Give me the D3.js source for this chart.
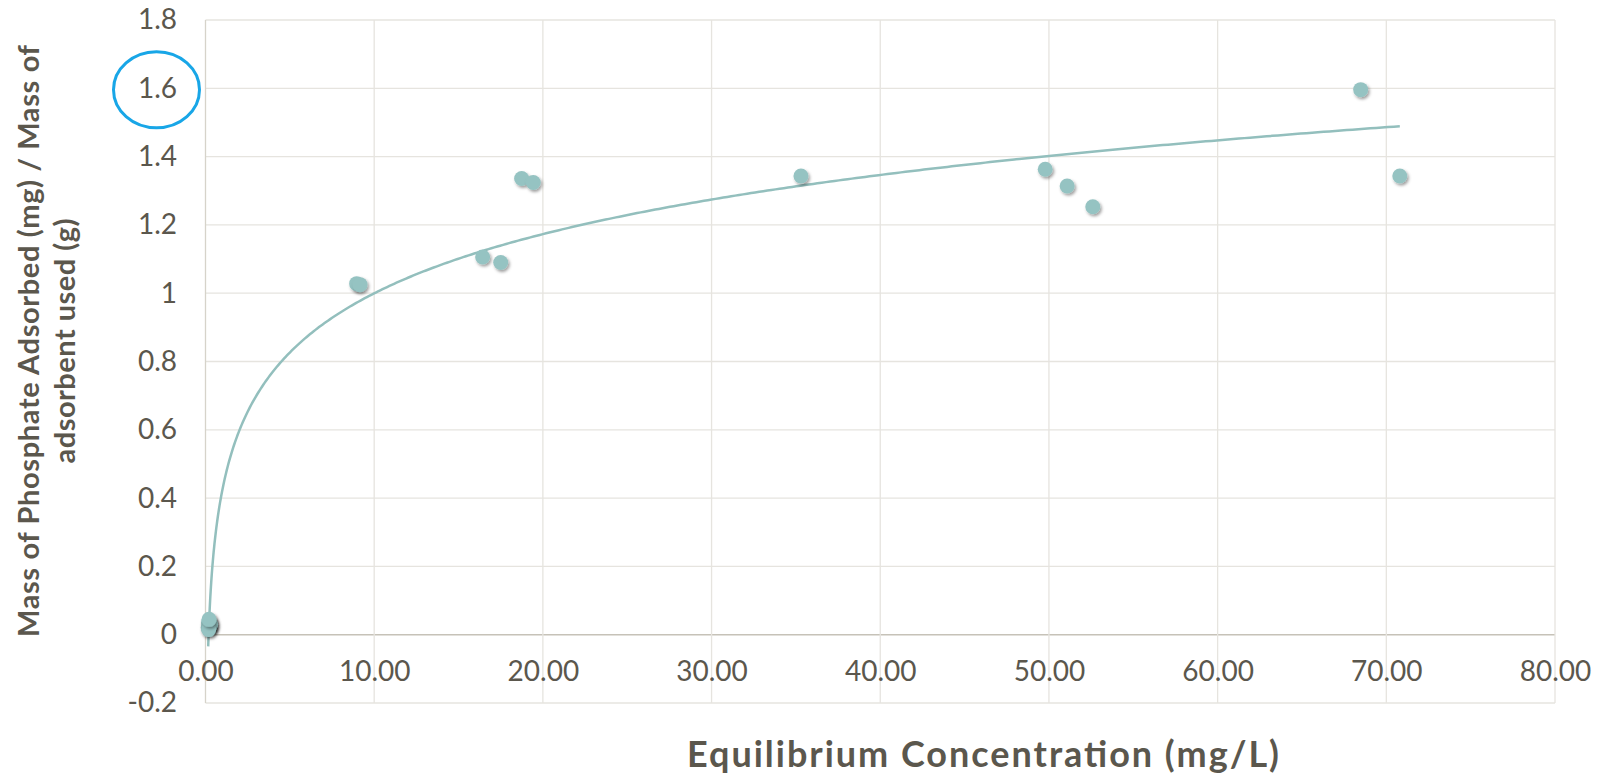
<!DOCTYPE html>
<html>
<head>
<meta charset="utf-8">
<script src="https://cdn.jsdelivr.net/npm/d3@7"></script>
<style>
    body { margin: 0; background: #fff; }
    svg { display: block; }
</style>
</head>
<body>
<div id="container"></div>
<script>
let w = 1604;
let h = 778;

// DATA
let concentration = [0.16, 0.18, 0.2, 0.22, 0.25, 0.3, 0.19, 0.21,
    8.96, 9.16, 16.43, 17.5, 18.74, 19.43, 35.3,
    49.78, 51.08, 52.6, 68.48, 70.8];
let adsorbed = [0.02, 0.035, 0.03, 0.04, 0.025, 0.03, 0.015, 0.045,
    1.028, 1.025, 1.106, 1.09, 1.336, 1.324, 1.343,
    1.363, 1.314, 1.253, 1.596, 1.343];
let xTicks = [0, 10, 20, 30, 40, 50, 60, 70, 80];
let yTicks = [-0.2, 0, 0.2, 0.4, 0.6, 0.8, 1, 1.2, 1.4, 1.6, 1.8];
// logarithmic trendline y = a ln(x) + b
let trendA = 0.25;
let trendB = 0.424;

let textColor = "#5b574d";
let pointColor = "#95c3c2";

let x = d3.scaleLinear().domain([0, 80]).range([205.5, 1555]);
let y = d3.scaleLinear().domain([-0.2, 1.8]).range([703, 20]);

let viz = d3.select("#container").append("svg")
    .attr("width", w)
    .attr("height", h)
    .style("background-color", "white")
    .style("font-family", "Lato, 'Open Sans', sans-serif");

let defs = viz.append("defs");
let shadow = defs.append("filter").attr("id", "shadow")
    .attr("x", "-50%").attr("y", "-50%").attr("width", "200%").attr("height", "200%");
shadow.append("feDropShadow")
    .attr("dx", 1.5).attr("dy", 2).attr("stdDeviation", 1.6)
    .attr("flood-color", "#000").attr("flood-opacity", 0.38);

// gridlines
viz.append("g").attr("class", "hgrid")
    .selectAll("line").data(yTicks).enter()
    .append("line")
    .attr("x1", x(0)).attr("x2", x(80))
    .attr("y1", d => y(d)).attr("y2", d => y(d))
    .attr("stroke", d => d === 0 ? "#c6c2b8" : "#e6e4df")
    .attr("stroke-width", d => d === 0 ? 1.6 : 1.3);

viz.append("g").attr("class", "vgrid")
    .selectAll("line").data(xTicks).enter()
    .append("line")
    .attr("x1", d => x(d)).attr("x2", d => x(d))
    .attr("y1", y(1.8)).attr("y2", y(-0.2))
    .attr("stroke", d => d === 0 ? "#d6d3ca" : "#e6e4df")
    .attr("stroke-width", 1.3);

// y tick labels
let yAxis = d3.axisLeft(y)
    .tickValues(yTicks)
    .tickSize(0)
    .tickPadding(0)
    .tickFormat(d => String(+d.toFixed(1)));
let gy = viz.append("g").attr("transform", "translate(177,0)").call(yAxis);
gy.select(".domain").remove();
gy.selectAll("text")
    .attr("fill", textColor)
    .style("font-size", "28px")
    .style("font-family", "Lato, sans-serif");

// x tick labels (sit just under the zero line)
let xAxis = d3.axisBottom(x)
    .tickValues(xTicks)
    .tickSize(0)
    .tickPadding(0)
    .tickFormat(d3.format(".2f"));
let gx = viz.append("g").attr("transform", "translate(0," + (y(0) + 46) + ")").call(xAxis);
gx.select(".domain").remove();
gx.selectAll("text")
    .attr("dy", "0")
    .attr("fill", textColor)
    .style("font-size", "28px")
    .style("font-family", "Lato, sans-serif");

// trendline
let trendX = d3.range(0, 401).map(i => concentration[0] + (d3.max(concentration) - concentration[0]) * Math.pow(i / 400, 2));
let line = d3.line()
    .x(d => x(d))
    .y(d => y(trendA * Math.log(d) + trendB))
    .curve(d3.curveLinear);
viz.append("path")
    .datum(trendX)
    .attr("d", line)
    .attr("fill", "none")
    .attr("stroke", "#93bfbd")
    .attr("stroke-width", 2.5);

// points
viz.append("g").selectAll("circle")
    .data(concentration.map((c, i) => [c, adsorbed[i]]))
    .enter()
    .append("circle")
    .attr("cx", d => x(d[0]))
    .attr("cy", d => y(d[1]))
    .attr("r", 7.5)
    .attr("fill", pointColor)
    .attr("filter", "url(#shadow)");

// axis titles
viz.append("text")
    .attr("x", 983)
    .attr("y", 767)
    .attr("text-anchor", "middle")
    .attr("fill", textColor)
    .style("font-size", "36px")
    .style("font-weight", "bold")
    .attr("textLength", 592)
    .text("Equilibrium Concentration (mg/L)");

let ytitle = viz.append("g").attr("transform", "translate(0,341) rotate(-90)");
ytitle.append("text")
    .attr("x", 0).attr("y", 39)
    .attr("text-anchor", "middle")
    .attr("fill", textColor)
    .style("font-size", "29px")
    .style("font-weight", "bold")
    .attr("textLength", 592)
    .text("Mass of Phosphate Adsorbed (mg) / Mass of");
ytitle.append("text")
    .attr("x", 0).attr("y", 75)
    .attr("text-anchor", "middle")
    .attr("fill", textColor)
    .style("font-size", "29px")
    .style("font-weight", "bold")
    .attr("textLength", 245)
    .text("adsorbent used (g)");

// blue circle drawn around the 1.6 label
viz.append("ellipse")
    .attr("cx", 156.5)
    .attr("cy", y(1.6) + 1.5)
    .attr("rx", 43)
    .attr("ry", 38)
    .attr("fill", "none")
    .attr("stroke", "#18a6e7")
    .attr("stroke-width", 3);
</script>
</body>
</html>
